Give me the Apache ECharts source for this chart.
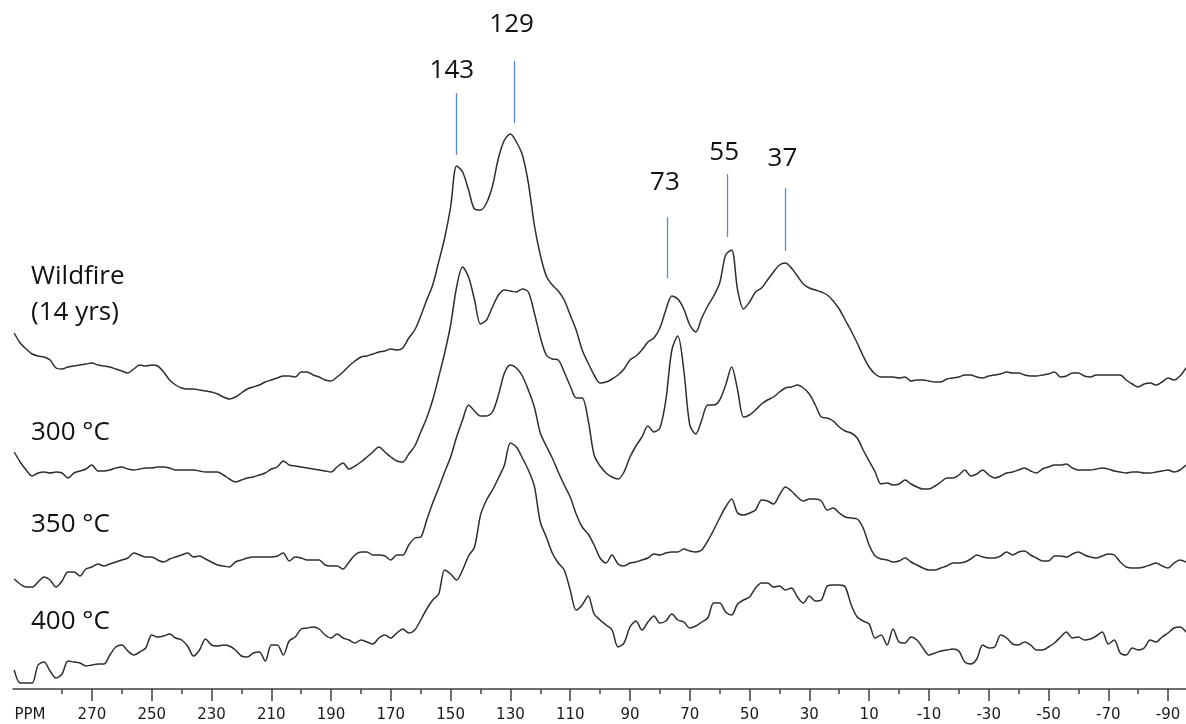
<!DOCTYPE html>
<html>
<head>
<meta charset="utf-8">
<script src="https://cdn.jsdelivr.net/npm/echarts@6/dist/echarts.min.js"></script>
<style>html,body{margin:0;padding:0;background:#fff;}#c{width:1186px;height:724px;}</style>
</head>
<body>
<div id="c"></div>
<script>
// chemical shift sample positions (ppm)
const ppm = [
 296,294,292,290,288,286,284,282,280,278,
 276,274,272,270,268,266,264,262,260,258,
 256,254,252,250,248,246,244,242,240,238,
 236,234,232,230,228,226,224,222,220,218,
 216,214,212,210,208,206,204,202,200,198,
 196,194,192,190,188,186,184,182,180,178,
 176,174,172,170,168,166,164,162,160,158,
 156,154,152,150,148,146,144,142,140,138,
 136,134,132,130,128,126,124,122,120,118,
 116,114,112,110,108,106,104,102,100,98,
 96,94,92,90,88,86,84,82,80,78,
 76,74,72,70,68,66,64,62,60,58,
 56,54,52,50,48,46,44,42,40,38,
 36,34,32,30,28,26,24,22,20,18,
 16,14,12,10,8,6,4,2,0,-2,
 -4,-6,-8,-10,-12,-14,-16,-18,-20,-22,
 -24,-26,-28,-30,-32,-34,-36,-38,-40,-42,
 -44,-46,-48,-50,-52,-54,-56,-58,-60,-62,
 -64,-66,-68,-70,-72,-74,-76,-78,-80,-82,
 -84,-86,-88,-90,-92,-94,-96
];
// intensities (arbitrary units, relative to each spectrum's own baseline)
const wildfire = [
 47,37,31,26,24,23,20,12,11,13,
 14,15,16,17,15,14,13,11,9,7,
 11,15,14,15,14,8,0,-5,-8,-9,
 -9,-10,-11,-12,-14,-17,-19,-17,-13,-9,
 -7,-5,-2,0,2,4,4,3,8,8,
 5,3,0,-1,3,8,14,19,23,24,
 26,28,29,31,30,32,42,50,64,80,
 95,118,142,173,214,208,190,171,170,177,
 194,222,240,246,238,225,197,155,125,104,
 95,89,80,65,50,30,17,5,-3,-2,
 1,5,11,20,24,30,38,42,52,70,
 84,81,71,55,48,62,74,84,97,125,
 130,90,71,78,88,92,100,108,115,117,
 112,104,96,92,90,88,85,79,71,60,
 49,37,24,13,6,3,3,3,2,3,
 -1,0,0,-1,-2,-2,1,2,3,5,
 5,3,2,4,5,6,8,7,7,5,
 4,4,5,6,8,3,4,7,7,4,
 3,5,5,5,5,5,0,-4,-7,-4,
 -3,-5,-2,2,0,4,12
];
const t300 = [
 18,8,0,-6,-3,-2,-3,-2,-3,-8,
 -3,-1,1,5,-1,-1,0,2,3,1,
 0,1,2,2,3,3,2,0,0,0,
 0,-1,-2,-2,-2,-5,-9,-12,-10,-8,
 -7,-5,-3,1,3,9,5,4,3,2,
 1,0,-1,-2,3,7,1,4,8,13,
 18,23,18,13,9,8,16,24,38,52,
 70,93,117,145,183,203,193,170,146,150,
 163,175,180,179,178,181,178,157,133,115,
 111,110,98,84,72,72,50,15,4,-3,
 -7,-9,-2,13,24,33,44,38,42,70,
 120,134,100,45,36,50,65,65,70,85,
 103,80,53,55,60,66,70,73,78,82,
 83,85,82,76,65,53,52,49,43,39,
 37,32,20,9,-2,-14,-13,-15,-14,-10,
 -14,-17,-19,-19,-16,-12,-8,-8,-5,0,
 -6,-4,0,-5,-8,-6,-3,-2,0,2,
 -1,-3,1,3,5,5,6,2,0,0,
 0,1,2,1,-1,-2,-3,-2,-2,-3,
 -3,-2,-1,0,-2,0,5
];
const t350 = [
 -14,-19,-22,-22,-17,-12,-15,-22,-16,-7,
 -7,-11,-4,-2,1,-1,1,3,5,7,
 12,10,8,8,5,3,6,8,10,12,
 8,9,6,3,0,-1,-2,3,5,7,
 8,8,8,8,9,12,4,8,7,5,
 5,5,0,-1,-1,-4,3,10,13,13,
 10,10,9,5,10,10,20,27,28,45,
 62,77,93,108,128,145,160,154,149,149,
 153,170,192,200,197,189,175,158,132,119,
 107,93,80,68,51,38,31,20,7,2,
 10,1,-1,2,3,5,7,11,10,12,
 13,13,16,14,13,15,24,35,47,58,
 66,52,50,52,55,65,64,61,70,78,
 74,68,64,66,66,64,55,57,52,48,
 47,46,37,20,9,6,5,3,4,7,
 3,0,-3,-5,-5,-3,-1,2,2,3,
 6,10,8,7,7,9,13,10,13,14,
 10,7,4,4,9,9,8,11,13,10,
 8,7,9,11,10,3,-2,-3,-3,-2,
 0,2,-1,-3,2,5,3
];
const t400 = [
 -20,-33,-33,-33,-15,-12,-21,-28,-24,-11,
 -12,-13,-16,-15,-14,-14,-5,3,5,-1,
 -5,-2,2,15,13,14,16,12,10,4,
 -6,0,11,5,4,5,4,0,-6,-7,
 -3,-2,-11,5,5,-5,9,13,21,22,
 23,21,15,12,16,12,10,7,10,8,
 6,12,15,12,17,21,17,20,30,41,
 50,56,80,76,70,80,94,103,135,150,
 160,172,185,207,203,192,180,164,128,113,
 97,87,80,60,40,45,54,36,30,25,
 20,3,7,23,29,20,28,34,27,29,
 36,30,28,22,24,28,32,47,47,38,
 35,46,50,53,62,67,67,63,64,60,
 62,53,47,54,49,50,64,65,65,63,
 45,33,29,26,12,15,5,21,8,7,
 13,10,2,-5,-3,-1,0,1,-1,-12,
 -14,-9,5,2,3,15,12,6,5,8,
 5,0,0,3,7,13,18,12,13,10,
 11,14,18,6,10,-3,-5,2,0,2,
 10,8,13,17,22,23,18
];
const seriesNames = ['Wildfire\n(14 yrs)', '300 °C', '350 °C', '400 °C'];
const majorTicks = [270,250,230,210,190,170,150,130,110,90,70,50,30,10,-10,-30,-50,-70,-90];
const minorTicks = [280,260,240,220,200,180,160,140,120,100,80,60,40,20,0,-20,-40,-60,-80];
const peakLabels = ['143','129','73','55','37'];
const peakPpm = [148.2,128.8,77.6,57.6,38.2];

// ---- layout (vertical stacking offsets, annotation placement) ----
const offsets = [309, 219, 124, 39];
const lineSpan = [[225,287],[257,319],[102,163],[143,206],[129,192]];
const labelPos = [[149.6,309],[129.6,355],[78.3,197],[58.5,227],[39,221]];
const nameY = [295, 433, 525, 622];

const spectra = [wildfire, t300, t350, t400];
const chart = echarts.init(document.getElementById('c'), null, {renderer:'canvas'});

const series = spectra.map((vals, k) => ({
  type: 'line',
  name: seriesNames[k],
  data: ppm.map((p, i) => [p, offsets[k] + vals[i]]),
  symbol: 'none',
  smooth: 0.3,
  silent: true,
  lineStyle: {color: '#2e2e2e', width: 1.5},
  z: 3
}));
series[0].markLine = {
  silent: true,
  symbol: ['none','none'],
  label: {show: false},
  lineStyle: {color: '#5b8bd0', width: 1.3, type: 'solid'},
  data: peakPpm.map((p, i) => [
    {coord: [p, offsets[0] + lineSpan[i][0]]},
    {coord: [p, offsets[0] + lineSpan[i][1]]}
  ])
};
series.push({
  type: 'scatter',
  symbolSize: 1,
  itemStyle: {color: 'rgba(0,0,0,0)', opacity: 1},
  silent: true,
  data: peakLabels.map((t, i) => ({name: t, value: [labelPos[i][0], offsets[0] + labelPos[i][1]]})),
  label: {show: true, position: 'inside', formatter: p => p.name,
          fontFamily: 'Open Sans', fontSize: 26, color: '#111', opacity: 1}
});

const option = {
  animation: false,
  backgroundColor: '#ffffff',
  grid: {left: 13, right: 0, top: 0, bottom: 35, containLabel: false},
  xAxis: [{
    type: 'value', inverse: true, min: -96, max: 296.4, position: 'bottom',
    axisLine: {show: true, lineStyle: {color: '#404040', width: 1.5}},
    axisTick: {show: true, customValues: majorTicks, length: 12, lineStyle: {color: '#404040', width: 1.5}},
    axisLabel: {show: true, customValues: [290.7].concat(majorTicks),
      formatter: v => (v > 280 ? 'PPM' : String(Math.round(v))),
      margin: 19, fontFamily: 'DejaVu Sans', fontSize: 15, color: '#1a1a1a'},
    splitLine: {show: false}
  }, {
    type: 'value', inverse: true, min: -96, max: 296.4, position: 'bottom',
    axisLine: {show: false},
    axisTick: {show: true, customValues: minorTicks, length: 5, lineStyle: {color: '#404040', width: 1.5}},
    axisLabel: {show: false},
    splitLine: {show: false}
  }],
  yAxis: {type: 'value', min: 0, max: 689, show: false},
  graphic: seriesNames.map((n, k) => ({
    type: 'text', silent: true,
    style: {x: 31, y: nameY[k], text: n, fill: '#111', font: '26px "Open Sans"',
            lineHeight: 36, verticalAlign: 'middle', align: 'left'}
  })),
  series: series
};
chart.setOption(option);
</script>
</body>
</html>
